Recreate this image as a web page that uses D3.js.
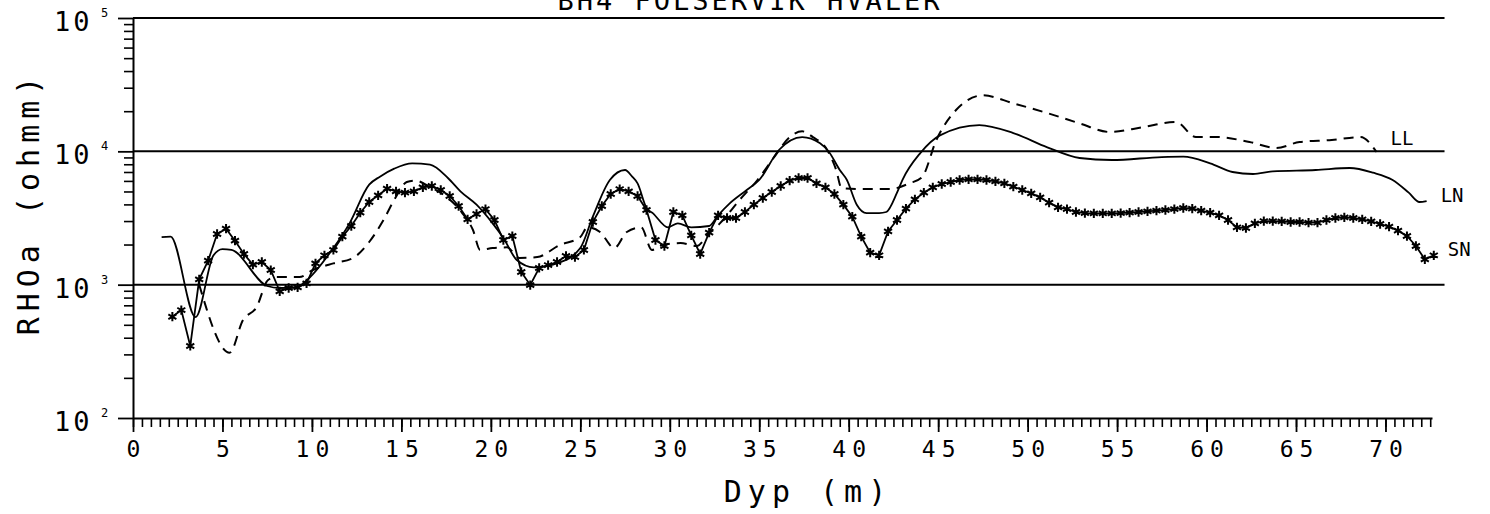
<!DOCTYPE html>
<html>
<head>
<meta charset="utf-8">
<script src="https://cdn.jsdelivr.net/npm/d3@7"></script>
<style>
  body { margin: 0; background: #fff; }
  svg text { font-family: "DejaVu Sans Mono", monospace; fill: #000; }
</style>
</head>
<body>
<svg id="chart" width="1490" height="514"></svg>
<script>
// depth (m) / apparent resistivity (ohmm)
const snDepth = [
  2.2, 2.7, 3.2, 3.7, 4.2, 4.7, 5.2, 5.7, 6.2, 6.7,
  7.2, 7.7, 8.2, 8.7, 9.2, 9.7, 10.2, 10.7, 11.2, 11.7,
  12.2, 12.7, 13.2, 13.7, 14.2, 14.7, 15.2, 15.7, 16.2, 16.7,
  17.2, 17.7, 18.2, 18.7, 19.2, 19.7, 20.2, 20.7, 21.2, 21.7,
  22.2, 22.7, 23.2, 23.7, 24.2, 24.7, 25.2, 25.7, 26.2, 26.7,
  27.2, 27.7, 28.2, 28.7, 29.2, 29.7, 30.2, 30.7, 31.2, 31.7,
  32.2, 32.7, 33.2, 33.7, 34.2, 34.7, 35.2, 35.7, 36.2, 36.7,
  37.2, 37.7, 38.2, 38.7, 39.2, 39.7, 40.2, 40.7, 41.2, 41.7,
  42.2, 42.7, 43.2, 43.7, 44.2, 44.7, 45.2, 45.7, 46.2, 46.7,
  47.2, 47.7, 48.2, 48.7, 49.2, 49.7, 50.2, 50.7, 51.2, 51.7,
  52.2, 52.7, 53.2, 53.7, 54.2, 54.7, 55.2, 55.7, 56.2, 56.7,
  57.2, 57.7, 58.2, 58.7, 59.2, 59.7, 60.2, 60.7, 61.2, 61.7,
  62.2, 62.7, 63.2, 63.7, 64.2, 64.7, 65.2, 65.7, 66.2, 66.7,
  67.2, 67.7, 68.2, 68.7, 69.2, 69.7, 70.2, 70.7, 71.2, 71.7,
  72.2, 72.7
];
const snRho = [
  575, 645, 347, 1096, 1514, 2399, 2630, 2138, 1698, 1413,
  1479, 1288, 891, 944, 955, 1023, 1445, 1660, 1820, 2291,
  2754, 3467, 4169, 4677, 5248, 5012, 4898, 5012, 5370, 5495,
  5129, 4624, 3890, 3090, 3388, 3690, 3055, 2163, 2317, 1245,
  993, 1334, 1403, 1479, 1641, 1611, 1820, 2951, 3890, 4786,
  5212, 5012, 4624, 3631, 2163, 1950, 3508, 3311, 2344, 1698,
  2455, 3311, 3162, 3162, 3508, 3981, 4467, 4955, 5495, 6026,
  6310, 6310, 5754, 5370, 4786, 3981, 3236, 2291, 1738, 1660,
  2512, 3055, 3715, 4365, 4898, 5370, 5689, 5888, 6095, 6166,
  6166, 6095, 5957, 5754, 5433, 5129, 4842, 4519, 4121, 3802,
  3690, 3508, 3443, 3428, 3428, 3428, 3443, 3467, 3508, 3548,
  3589, 3631, 3690, 3758, 3715, 3589, 3467, 3311, 3055, 2692,
  2661, 2884, 2999, 2999, 2985, 2951, 2951, 2917, 2917, 3055,
  3162, 3199, 3162, 3090, 2985, 2851, 2723, 2541, 2317, 1950,
  1549, 1660
];

const lnDepth = [
  1.6, 2.1, 3.5, 4.5, 5.0, 5.5, 7.5, 8.2, 9.15, 9.6,
  11.2, 12.1, 13.2, 13.8, 14.6, 15.6, 16.6, 17.6, 18.3, 19.2,
  20.1, 20.7, 21.45, 22.4, 23.7, 25.0, 25.7, 26.65, 27.5, 27.9,
  28.2, 28.7, 29.05, 29.9, 30.45, 31.2, 32.2, 32.7, 33.35, 34.3,
  35.0, 36.1, 37.4, 38.4, 38.9, 39.5, 39.9, 40.45, 41.0, 41.7,
  42.1, 42.7, 43.0, 44.0, 45.1, 47.3, 49.2, 51.1, 52.9, 54.7,
  57.5, 58.7, 60.2, 61.45, 62.6, 63.7, 66.1, 68.0, 69.3, 70.4,
  71.3, 71.9, 72.3
];
const lnRho = [
  2275, 2291, 571, 1660, 1849, 1820, 977, 944, 955, 1047,
  1884, 2884, 5623, 6457, 7413, 8128, 7943, 6310, 5012, 3981,
  2884, 2239, 1531, 1349, 1445, 1884, 3236, 6095, 7244, 6457,
  5754, 3758, 3443, 2692, 2884, 2692, 2754, 3311, 4074, 5129,
  6095, 10233, 12794, 11482, 9886, 7244, 6095, 3981, 3443, 3443,
  3508, 4898, 6095, 9705, 13183, 15740, 13709, 10715, 8913, 8610,
  9057, 9120, 8128, 6998, 6761, 7079, 7244, 7499, 6918, 6095,
  4898, 4169, 4236
];

const llDepth = [
  3.7, 5.4, 6.15, 6.9, 7.55, 8.0, 9.3, 10.06, 11.2, 12.3,
  13.2, 14.0, 14.7, 15.3, 15.8, 16.5, 17.5, 18.4, 19.0, 19.4,
  20.1, 20.9, 21.6, 22.6, 23.85, 25.0, 25.4, 26.1, 26.9, 27.6,
  28.4, 29.0, 29.6, 30.6, 31.5, 32.2, 32.8, 33.9, 34.9, 35.8,
  36.7, 37.4, 38.0, 38.8, 39.3, 39.6, 40.6, 42.3, 43.4, 44.1,
  44.9, 46.0, 47.5, 49.2, 51.1, 52.9, 54.6, 56.4, 58.3, 59.4,
  60.6, 62.4, 63.9, 65.2, 67.0, 68.6, 69.5
];
const llRho = [
  1000, 309, 543, 676, 1084, 1140, 1140, 1288, 1445, 1585,
  2089, 3055, 4571, 5888, 6026, 5495, 4571, 3443, 2570, 1820,
  1884, 1905, 1585, 1611, 1982, 2275, 2692, 2483, 1884, 2483,
  2692, 1820, 1982, 2051, 1950, 2438, 2884, 4315, 6095, 8913,
  12794, 14125, 12794, 10233, 7244, 5309, 5212, 5212, 5754, 6412,
  12162, 20417, 26303, 22909, 19364, 16218, 13964, 15136, 16596, 12794,
  12794, 11749, 10593, 11749, 12162, 12794, 9886
];

const xTickValues = [0, 5, 10, 15, 20, 25, 30, 35, 40, 45, 50, 55, 60, 65, 70];
const yDecades = [100, 1000, 10000, 100000];
const yExponents = ["2", "3", "4", "5"];
const seriesLabels = ["LL", "LN", "SN"];

let svg = d3.select("#chart");

let x = d3.scaleLinear().domain([0, 72.6]).range([133, 1432]);
let y = d3.scaleLog().domain([100, 100000]).range([418, 18]);

// horizontal lines at each decade
svg.append("g")
    .selectAll("line")
    .data(yDecades.slice(1))
    .join("line")
    .attr("x1", x(0))
    .attr("x2", x(73.3))
    .attr("y1", d => y(d))
    .attr("y2", d => y(d))
    .attr("stroke", "#000")
    .attr("stroke-width", 2);

// x axis: half-metre ticks + labelled majors
let xMinor = d3.range(0, 72.6, 0.5);
let xMinorAxis = svg.append("g")
    .attr("transform", "translate(0," + y(100) + ")")
    .call(d3.axisBottom(x).tickValues(xMinor).tickSize(9).tickSizeOuter(0).tickFormat(""));
xMinorAxis.select(".domain").attr("stroke-width", 2);
xMinorAxis.selectAll(".tick line").attr("stroke-width", 1.6);

let xMajorAxis = svg.append("g")
    .attr("transform", "translate(0," + y(100) + ")")
    .call(d3.axisBottom(x).tickValues(xTickValues).tickSize(14).tickSizeOuter(0).tickPadding(9).tickFormat(d3.format("d")));
xMajorAxis.select(".domain").remove();
xMajorAxis.selectAll(".tick line").attr("stroke-width", 1.8);
xMajorAxis.selectAll(".tick text")
    .attr("font-size", 23)
    .attr("font-family", "DejaVu Sans Mono")
    .style("letter-spacing", "6px")
    .attr("dx", 3);

// y axis: log minor ticks + decade ticks
let yMinor = [];
yDecades.slice(0, 3).forEach(dec => {
    for (let m = 2; m <= 9; m++) yMinor.push(dec * m);
});
let yMinorAxis = svg.append("g")
    .attr("transform", "translate(" + x(0) + ",0)")
    .call(d3.axisLeft(y).tickValues(yMinor).tickSize(9).tickSizeOuter(0).tickFormat(""));
yMinorAxis.select(".domain").attr("stroke-width", 2);
yMinorAxis.selectAll(".tick line").attr("stroke-width", 1.6);

let yMajorAxis = svg.append("g")
    .attr("transform", "translate(" + x(0) + ",0)")
    .call(d3.axisLeft(y).tickValues(yDecades).tickSize(15).tickSizeOuter(0).tickFormat(""));
yMajorAxis.select(".domain").remove();
yMajorAxis.selectAll(".tick line").attr("stroke-width", 1.8);

// 10^n labels
let yLab = svg.append("g")
    .selectAll("g")
    .data(yDecades)
    .join("g")
    .attr("transform", d => "translate(0," + y(d) + ")");
yLab.append("text")
    .attr("x", 54)
    .attr("y", 13)
    .attr("font-size", 27)
    .style("letter-spacing", "3px")
    .text("10");
yLab.append("text")
    .attr("x", 101)
    .attr("y", -1)
    .attr("font-size", 12)
    .text((d, i) => yExponents[i]);

// series
let line = d3.line().x(d => x(d[0])).y(d => y(d[1]));
let sn = d3.zip(snDepth, snRho);
let ln = d3.zip(lnDepth, lnRho);
let ll = d3.zip(llDepth, llRho);

svg.append("path")
    .datum(ll)
    .attr("fill", "none")
    .attr("stroke", "#000")
    .attr("stroke-width", 2)
    .attr("stroke-dasharray", "10,7")
    .attr("d", line.curve(d3.curveMonotoneX));

svg.append("path")
    .datum(ln)
    .attr("fill", "none")
    .attr("stroke", "#000")
    .attr("stroke-width", 1.8)
    .attr("d", line.curve(d3.curveMonotoneX));

svg.append("path")
    .datum(sn)
    .attr("fill", "none")
    .attr("stroke", "#000")
    .attr("stroke-width", 1.8)
    .attr("d", line.curve(d3.curveLinear));

svg.append("g")
    .selectAll("path")
    .data(sn)
    .join("path")
    .attr("transform", d => "translate(" + x(d[0]) + "," + y(d[1]) + ")")
    .attr("d", d3.symbol(d3.symbolAsterisk, 60))
    .attr("fill", "none")
    .attr("stroke", "#000")
    .attr("stroke-width", 2);

// curve labels at the right end
let lastPoints = [ll[ll.length - 1], ln[ln.length - 1], sn[sn.length - 1]];
let labelOffsets = [[14, -7], [14, 1], [14, 1]];
svg.append("g")
    .selectAll("text")
    .data(seriesLabels)
    .join("text")
    .attr("x", (d, i) => x(lastPoints[i][0]) + labelOffsets[i][0])
    .attr("y", (d, i) => y(lastPoints[i][1]) + labelOffsets[i][1])
    .attr("font-size", 19)
    .attr("font-family", "Liberation Sans")
    .text(d => d);

// titles
svg.append("text")
    .attr("x", 750)
    .attr("y", 10)
    .attr("text-anchor", "middle")
    .attr("font-size", 27)
    .style("letter-spacing", "3px")
    .text("BH4 FOLSERVIK HVALER");

svg.append("text")
    .attr("x", 808)
    .attr("y", 502)
    .attr("text-anchor", "middle")
    .attr("font-size", 30)
    .style("letter-spacing", "6px")
    .text("Dyp (m)");

svg.append("text")
    .attr("transform", "translate(39,203) rotate(-90)")
    .attr("text-anchor", "middle")
    .attr("font-size", 30)
    .style("letter-spacing", "6px")
    .text("RHOa (ohmm)");
</script>
</body>
</html>
